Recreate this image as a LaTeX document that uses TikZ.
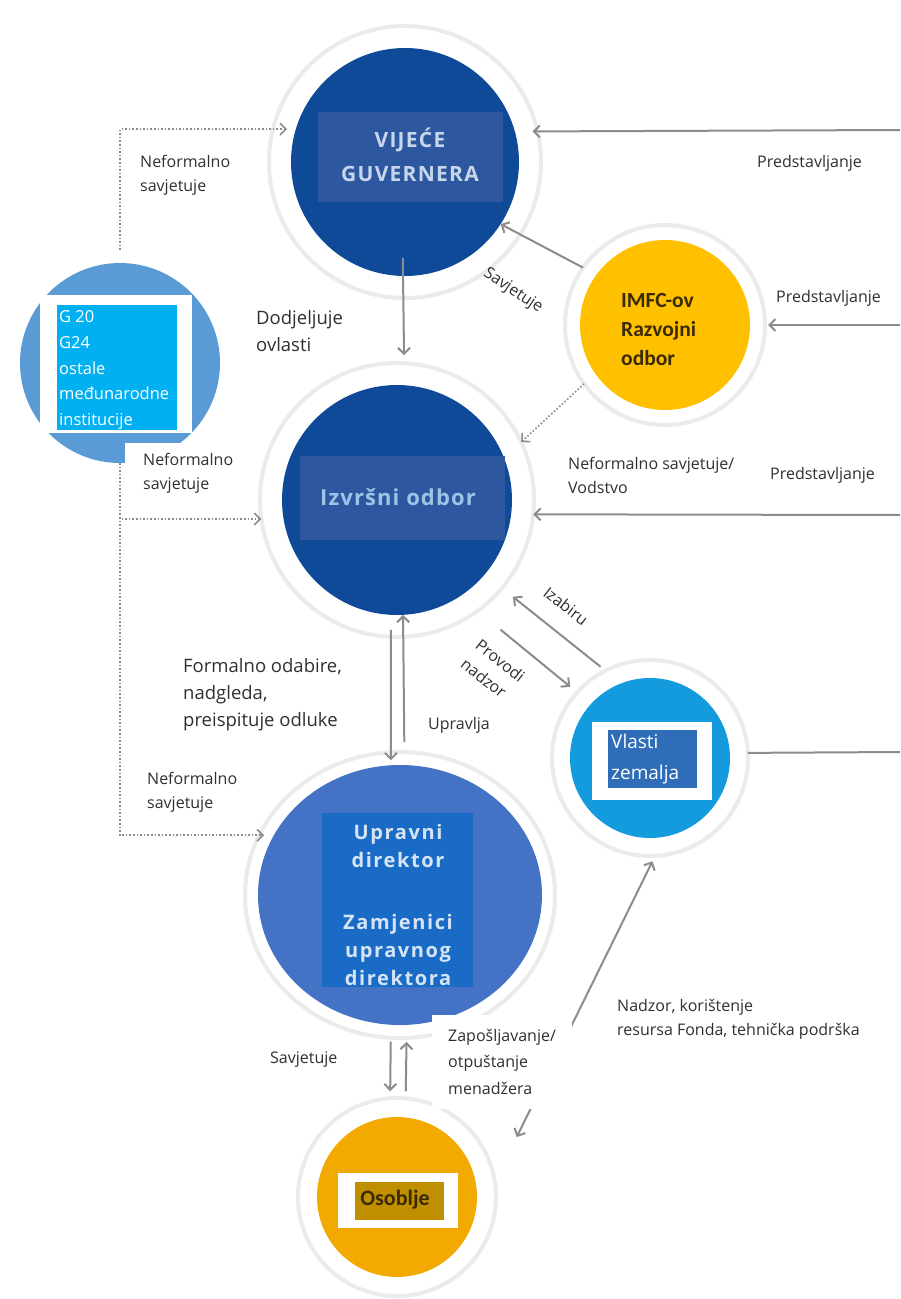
\documentclass[tikz,border=0pt]{standalone}
\usepackage{fontspec}
\setmainfont{Open Sans}
\newfontfamily\carl{Carlito}
\usetikzlibrary{arrows.meta,shapes.geometric}
\definecolor{dblue}{HTML}{0E4A97}
\definecolor{boxblue}{HTML}{2D58A0}
\definecolor{g20blue}{HTML}{5B9BD5}
\definecolor{cyanbox}{HTML}{00B0F0}
\definecolor{gold}{HTML}{FFC000}
\definecolor{vlblue}{HTML}{139BDD}
\definecolor{vlbox}{HTML}{2F6DB8}
\definecolor{upblue}{HTML}{4472C4}
\definecolor{upbox}{HTML}{1A6BC6}
\definecolor{osgold}{HTML}{F2A900}
\definecolor{osbox}{HTML}{BF8F00}
\definecolor{ringgray}{HTML}{EBEBEB}
\definecolor{linegray}{HTML}{8C8C8C}
\definecolor{txt}{HTML}{303030}
\definecolor{vgtxt}{HTML}{C8D6EC}
\definecolor{iztxt}{HTML}{9DC3E6}
\definecolor{uptxt}{HTML}{D5E5F5}
\definecolor{imtxt}{HTML}{3A2A00}
\begin{document}
\begin{tikzpicture}[x=1pt,y=-1pt,
  ringc/.style={circle, draw=ringgray, line width=4pt, inner sep=0pt, outer sep=0pt},
  disc/.style={circle, inner sep=0pt, outer sep=0pt},
  rbox/.style={rectangle, inner sep=0pt, outer sep=0pt, anchor=north west},
  lbl/.style={font=\fontsize{16}{24}\selectfont, text=txt, align=left, inner sep=0pt, anchor=west},
  biglbl/.style={lbl, font=\fontsize{18.5}{27}\selectfont},
  tip/.style={-{Straight Barb[length=6pt,width=12pt]}},
  conn/.style={draw=linegray, line width=2pt, tip},
  dotconn/.style={draw=linegray, line width=1.6pt, dotted, tip},
]
\useasboundingbox[fill=white] (0,0) rectangle (900,1299);

% ---------- circles ----------
% Vijece guvernera
\node[ringc, minimum size=272pt] (vgR) at (405,162) {};
\node[disc, fill=dblue, minimum size=228pt] (vg) at (405,162) {};
\node[rbox, fill=boxblue, minimum width=185pt, minimum height=90pt] (vgB) at (318,112) {};
\node[text=vgtxt, align=center, font=\bfseries\fontsize{21}{34}\selectfont\addfontfeatures{LetterSpace=6}] (vgT) at (410,155) {VIJEĆE\\GUVERNERA};

% IMFC
\node[ringc, minimum size=200pt] (imR) at (665,325) {};
\node[disc, fill=gold, minimum size=170pt] (im) at (665,325) {};
\node[text=imtxt, align=left, anchor=west, inner sep=0pt, font=\carl\bfseries\fontsize{21.5}{29}\selectfont] (imT) at (621,330) {IMFC-ov\\Razvojni\\odbor};

% G20
\node[disc, fill=g20blue, minimum size=200pt] (g20) at (120,363) {};
\node[rbox, fill=white, minimum width=152pt, minimum height=138pt] (g20W) at (40,295) {};
\node[rbox, fill=cyanbox, minimum width=120pt, minimum height=125pt] (g20B) at (57,305) {};
\node[text=white, align=left, anchor=west, inner sep=0pt, font=\fontsize{16.5}{25.7}\selectfont] (g20T) at (59,370) {G 20\\G24\\ostale\\međunarodne\\institucije};

% Izvrsni odbor
\node[ringc, minimum size=274pt] (izR) at (397,500) {};
\node[disc, fill=dblue, minimum size=230pt] (iz) at (397,500) {};
\node[rbox, fill=boxblue, minimum width=205pt, minimum height=84pt] (izB) at (300,456) {};
\node[text=iztxt, font=\bfseries\fontsize{22}{26}\selectfont\addfontfeatures{LetterSpace=5}] (izT) at (398,497) {Izvršni odbor};

% Vlasti zemalja
\node[ringc, minimum size=196pt] (vlR) at (650,758) {};
\node[disc, fill=vlblue, minimum size=160pt] (vl) at (650,758) {};
\node[rbox, fill=white, minimum width=120pt, minimum height=78pt] (vlW) at (592,722) {};
\node[rbox, fill=vlbox, minimum width=89pt, minimum height=58pt] (vlB) at (608,730) {};
\node[text=white, align=left, anchor=west, inner sep=0pt, font=\fontsize{19}{31}\selectfont] (vlT) at (611,759) {Vlasti\\zemalja};

% Upravni direktor
\node[ellipse, draw=ringgray, line width=4pt, inner sep=0pt, outer sep=0pt, minimum width=310pt, minimum height=286pt] (upR) at (400,895) {};
\node[ellipse, fill=upblue, inner sep=0pt, outer sep=0pt, minimum width=284pt, minimum height=260pt] (up) at (400,895) {};
\node[rbox, fill=upbox, minimum width=151pt, minimum height=174pt] (upB) at (322,813) {};
\node[text=uptxt, align=center, font=\bfseries\fontsize{20}{28}\selectfont\addfontfeatures{LetterSpace=8}] (upT) at (398,905) {Upravni\\direktor\\[34pt]Zamjenici\\upravnog\\direktora};

% Osoblje
\node[ringc, minimum size=198pt] (osR) at (397,1197) {};
\node[disc, fill=osgold, minimum size=160pt] (os) at (397,1197) {};
\node[rbox, fill=white, minimum width=120pt, minimum height=55pt] (osW) at (338,1173) {};
\node[rbox, fill=osbox, minimum width=89pt, minimum height=38pt] (osB) at (355,1182) {};
\node[text=imtxt, font=\carl\bfseries\fontsize{22}{26}\selectfont] (osT) at (395,1200) {Osoblje};

% ---------- free ends ----------
\coordinate (e1) at (900,130);
\coordinate (e2) at (900,325);
\coordinate (e3) at (900,515);
\coordinate (e4) at (900,752);

% ---------- connectors ----------
\draw[conn, shorten >=-5pt] (e1) -- (vgR.13.6);
\draw[conn] (imR.145.2) -- (vg.-33.6);
\draw[conn, shorten >=3pt] (e2) -- (imR.east);
\draw[dotconn] (imR.216) -- (izR.25.5);
\draw[conn] (e3) -- (izR.-6.3);
\draw[conn, shorten <=-18pt, shorten >=8pt] (vg.-91.5) -- (izR.87.9);
\draw[dotconn, shorten <=13pt, shorten >=-14pt] (g20.north) |- (vgR.166.4);
\draw[dotconn] (g20.south) |- (izR.188.4);
\draw[dotconn, shorten >=-5pt] (g20.south) |- (upR.157.8);
\draw[conn, shorten <=15pt, shorten >=5pt] (iz.-93.5) -- (up.94.4);
\draw[conn, shorten <=23pt] (up.88.7) -- (iz.-87);
\draw[conn, shorten <=6.3pt, shorten >=14pt] (vlR.117.3) -- (izR.-40);
\draw[conn, shorten <=29.7pt, shorten >=9pt] (izR.-54.2) -- (vlR.138.3);
\draw[conn, shorten <=17pt, shorten >=7pt] (up.-94.4) -- (osR.94.1);
\draw[conn, shorten <=7pt, shorten >=17pt] (osR.85.3) -- (up.-87.8);
\draw[conn, {Straight Barb[length=6pt,width=12pt]}-{Straight Barb[length=6pt,width=12pt]}, shorten <=6pt, shorten >=49.5pt] (vlR.-87.2) -- (osR.9.4);
\draw[draw=linegray, line width=2pt] (vlR.3.5) -- (e4);

% ---------- labels ----------
\node[lbl] (l1) at (140,175) {Neformalno\\savjetuje};
\node[lbl] (l2) at (757,163) {Predstavljanje};
\node[lbl, anchor=center, rotate=-33.7] (l3) at (513,291) {Savjetuje};
\node[biglbl] (l4) at (256,331) {Dodjeljuje\\ovlasti};
\node[lbl] (l5) at (776,298) {Predstavljanje};
\node[lbl, fill=white, anchor=north west, inner xsep=18pt, inner ysep=10pt] (l6) at (125,443) {Neformalno\\savjetuje};
\node[lbl] (l7) at (568,475) {Neformalno savjetuje/\\Vodstvo};
\node[lbl] (l8) at (770,475) {Predstavljanje};
\node[lbl, anchor=center, rotate=-38] (l9) at (566,606) {Izabiru};
\node[lbl, anchor=center, rotate=-38] (l10) at (493,670) {Provodi\\nadzor};
\node[biglbl] (l11) at (183,695) {Formalno odabire,\\nadgleda,\\preispituje odluke};
\node[lbl] (l12) at (428,725) {Upravlja};
\node[lbl] (l13) at (147,792) {Neformalno\\savjetuje};
\node[lbl] (l14) at (270,1060) {Savjetuje};
\node[lbl, fill=white, anchor=north west, inner xsep=16pt, inner ysep=14pt, font=\fontsize{16}{26.5}\selectfont] (l15) at (432,1015) {Zapošljavanje/\\otpuštanje\\menadžera};
\node[lbl] (l16) at (617,1019) {Nadzor, korištenje\\resursa Fonda, tehnička podrška};
\end{tikzpicture}
\end{document}
